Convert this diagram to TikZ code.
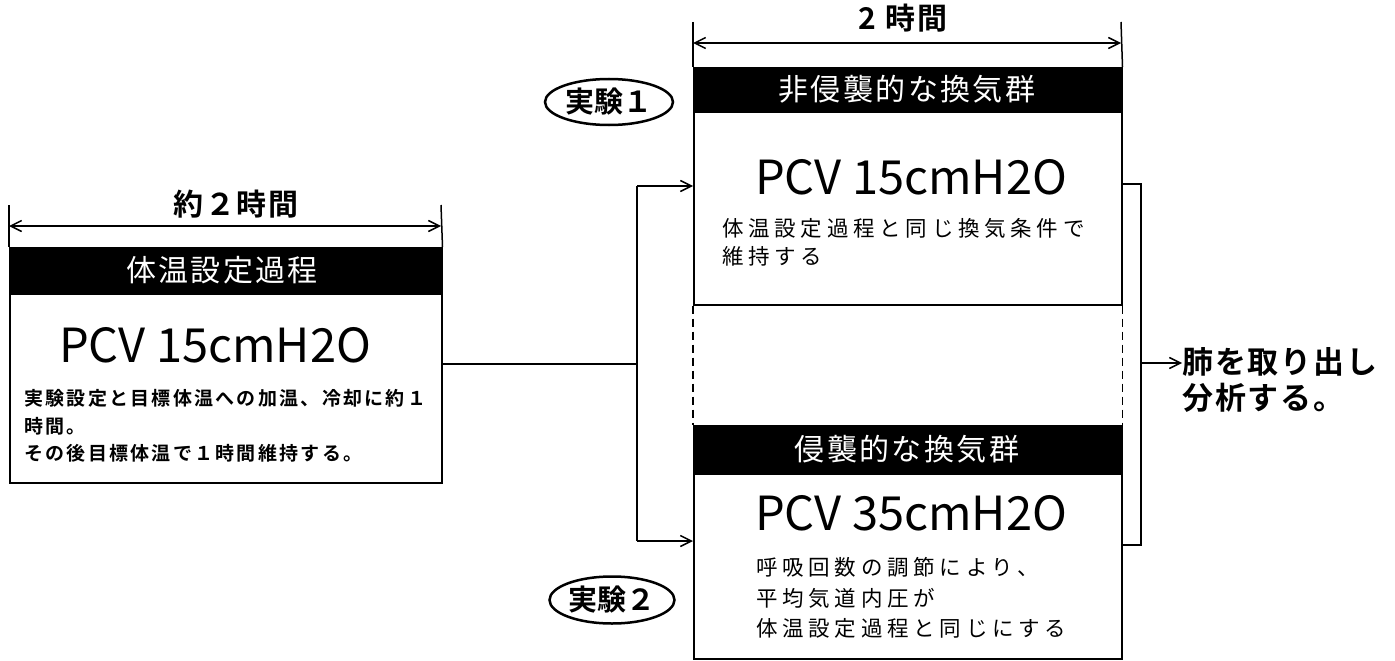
\documentclass[tikz,border=0pt]{standalone}
\usepackage{fontspec}
\usetikzlibrary{arrows.meta,shapes.geometric}
\newfontfamily\jp{Noto Sans CJK JP}
\newfontfamily\jphd[LetterSpace=8]{Noto Sans CJK JP}
\newfontfamily\jpsp[LetterSpace=22]{Noto Sans CJK JP}
\newfontfamily\jpbsp[LetterSpace=12]{Noto Sans CJK JP Bold}
\newfontfamily\jpb{Noto Sans CJK JP Bold}
\newfontfamily\jpbw[LetterSpace=6]{Noto Sans CJK JP Bold}
\tikzset{
  line/.style={line width=1.5pt},
  arr/.style={line width=1.5pt,-{Straight Barb[length=11pt,width=11pt,line width=1.5pt]}},
  dim/.style={line width=1.5pt,{Straight Barb[length=11pt,width=11pt,line width=1.5pt]}-{Straight Barb[length=11pt,width=11pt,line width=1.5pt]}},
  hdr/.style={fill=black,draw=black,line width=1.5pt,anchor=north west,inner sep=0pt},
  hdrtxt/.style={text=white,font=\jphd\fontsize{30}{32}\selectfont},
  box/.style={draw,line width=1.5pt,anchor=north west,inner sep=0pt},
  pcv/.style={font=\jp\fontsize{47}{50}\selectfont,inner sep=0pt},
  exp/.style={ellipse,draw,line width=2.5pt,inner sep=0pt,font=\jpb\fontsize{29}{30}\selectfont},
}
\begin{document}
\begin{tikzpicture}[x=1pt,y=-1pt]
\useasboundingbox (0,0) rectangle (1395,661);
% left box
\node[box,minimum width=432pt,minimum height=235pt] (lbox) at (9,247) {};
\node[hdr,minimum width=432pt,minimum height=46pt] (lhdr) at (9,247) {};
\node[hdrtxt] (lhdrt) at (222,270) {体温設定過程};
\node[pcv] (lpcv) at (215,345) {PCV 15cmH2O};
\node[anchor=west,align=left,inner sep=0pt,font=\jpbsp\fontsize{19}{27.5}\selectfont] (ltxt) at (24,426) {実験設定と目標体温への加温、冷却に約１\\時間。\\その後目標体温で１時間維持する。};
% left dimension
\coordinate (lt1) at (9,205);
\coordinate (lt2) at (441,205);
\draw[line] (lt1) -- (lbox.north west);
\draw[line] (lt2) -- (lbox.north east);
\draw[dim] (9,226) -- (441,226);
\node[font=\jpbw\fontsize{30}{32}\selectfont] (ldim) at (236,204) {約２時間};
% right top box
\node[box,minimum width=428pt,minimum height=237pt] (tbox) at (693,67) {};
\node[hdr,minimum width=428pt,minimum height=44pt] (thdr) at (693,67) {};
\node[hdrtxt] (thdrt) at (907,89) {非侵襲的な換気群};
\node[pcv] (tpcv) at (911,177) {PCV 15cmH2O};
\node[anchor=west,align=left,inner sep=0pt,font=\jpsp\fontsize{21.5}{28}\selectfont] (ttxt) at (722,242) {体温設定過程と同じ換気条件で\\維持する};
% right dimension
\coordinate (rt1) at (693,22);
\coordinate (rt2) at (1121,22);
\draw[line] (rt1) -- (tbox.north west);
\draw[line] (rt2) -- (tbox.north east);
\draw[dim] (693,43) -- (1121,43);
\node[font=\jpbw\fontsize{30}{32}\selectfont] (rdim) at (903,18) {2 時間};
% lower box
\node[box,minimum width=428pt,minimum height=233pt] (bbox) at (693,425) {};
\node[hdr,minimum width=428pt,minimum height=48pt] (bhdr) at (693,425) {};
\node[hdrtxt] (bhdrt) at (907,449) {侵襲的な換気群};
\node[pcv] (bpcv) at (911,513) {PCV 35cmH2O};
\node[anchor=west,align=left,inner sep=0pt,font=\jpsp\fontsize{21.5}{30.5}\selectfont] (btxt) at (756,598) {呼吸回数の調節により、\\平均気道内圧が\\体温設定過程と同じにする};
% dashed gap
\draw[line,dashed,dash pattern=on 8pt off 5pt] (tbox.south west) -- (bbox.north west);
\draw[line,dashed,dash pattern=on 8pt off 5pt] (tbox.south east) -- (bbox.north east);
% connectors
\coordinate (lout) at (lbox.east |- 0,364);
\coordinate (jn) at (637,364);
\coordinate (jt) at (637,186);
\coordinate (jb) at (637,541);
\coordinate (at) at (693,186);
\coordinate (ab) at (693,541);
\draw[line] (lout) -- (jn);
\draw[line] (jt) -- (jb);
\draw[arr] (jt) -- (at);
\draw[arr] (jb) -- (ab);
% bracket
\coordinate (b1) at (1121,184);
\coordinate (b2) at (1141,184);
\coordinate (b3) at (1141,545);
\coordinate (b4) at (1121,545);
\coordinate (bm) at (1141,363);
\draw[line] (b1) -- (b2) -- (b3) -- (b4);
\node[anchor=west,align=left,inner sep=0pt,font=\jpbw\fontsize{31}{36}\selectfont] (res) at (1182,380) {肺を取り出し\\分析する。};
\draw[arr] (bm) -- (bm -| res.west);
% experiments
\node[exp,minimum width=128pt,minimum height=46pt] (e1) at (609,102) {実験１};
\node[exp,minimum width=125pt,minimum height=47pt] (e2) at (612,600) {実験２};
\end{tikzpicture}
\end{document}
